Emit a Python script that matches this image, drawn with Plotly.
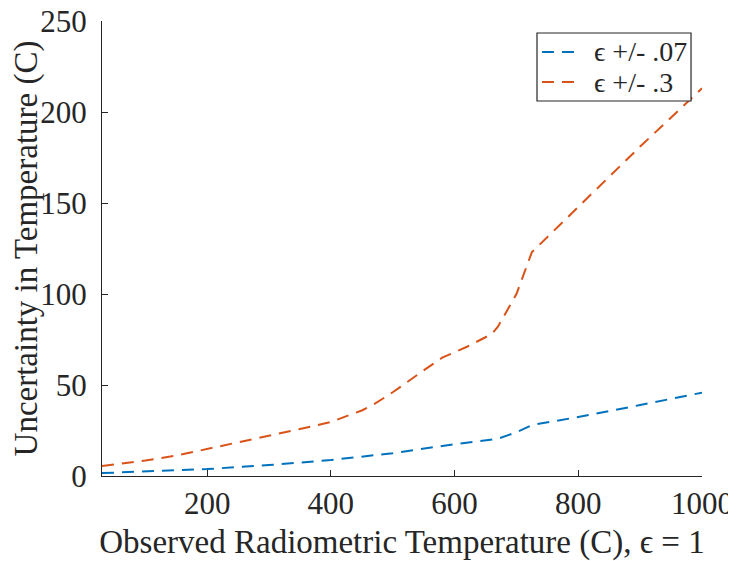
import plotly.graph_objects as go

# Data
x_orange = [30, 100, 150, 200, 250, 300, 350, 400, 450, 470, 500, 550, 580, 620, 660, 670, 700, 725, 800, 900, 1000]
y_orange = [5.5, 8.5, 11.2, 14.8, 18.3, 22, 25.8, 29.7, 36, 39.5, 46, 58, 65, 71, 78, 82, 100, 123, 148, 181, 213]

x_blue = [30, 100, 200, 300, 400, 500, 600, 670, 700, 725, 800, 900, 1000]
y_blue = [1.6, 2.5, 3.8, 6, 8.8, 12.5, 17.5, 20.5, 24, 28, 32.4, 39, 45.8]

series_names = ["ϵ +/- .07", "ϵ +/- .3"]
series_colors = ["#0072BD", "#D95319"]
x_ticks = [200, 400, 600, 800, 1000]
y_ticks = [0, 50, 100, 150, 200, 250]

font_fam = "Liberation Serif, Times New Roman, DejaVu Serif, serif"
axis_col = "#262626"
dash = "12px,8px"

fig = go.Figure()
fig.add_trace(go.Scatter(x=x_blue, y=y_blue, mode="lines", name=series_names[0],
                         line=dict(color=series_colors[0], width=2, dash=dash)))
fig.add_trace(go.Scatter(x=x_orange, y=y_orange, mode="lines", name=series_names[1],
                         line=dict(color=series_colors[1], width=2, dash=dash)))

# Legend drawn as a box with samples (MATLAB-like compact legend)
shapes = [dict(type="rect", xref="paper", yref="paper", x0=0.725, x1=0.9817, y0=0.8242, y1=0.9736,
               line=dict(color=axis_col, width=1.2), fillcolor="white", layer="above")]
annotations = []
row_y = [0.9319, 0.8659]
for name, col, yy in zip(series_names, series_colors, row_y):
    shapes.append(dict(type="line", xref="paper", yref="paper", x0=0.7333, x1=0.80, y0=yy, y1=yy,
                       line=dict(color=col, width=2, dash=dash), layer="above"))
    annotations.append(dict(xref="paper", yref="paper", x=0.8167, y=yy, text=name, showarrow=False,
                            xanchor="left", yanchor="middle",
                            font=dict(size=28, family=font_fam, color=axis_col)))

# page body has an 8px margin, so the figure is drawn at (8, 8)
fig.update_layout(
    width=736, height=553,
    margin=dict(l=94, r=42, t=13, b=85, autoexpand=False),
    paper_bgcolor="white", plot_bgcolor="white",
    font=dict(family=font_fam, color=axis_col),
    showlegend=False,
    shapes=shapes, annotations=annotations,
)
fig.update_xaxes(
    range=[30, 1000], tickvals=x_ticks, ticktext=[str(v) for v in x_ticks],
    automargin=False, ticklabeloverflow="allow",
    showgrid=False, zeroline=False, showline=True, linecolor=axis_col, linewidth=1.3,
    ticks="inside", ticklen=6, tickcolor=axis_col, tickwidth=1.3,
    tickfont=dict(size=31, family=font_fam, color=axis_col),
    title=dict(text="Observed Radiometric Temperature (C), ϵ = 1",
               font=dict(size=33, family=font_fam, color=axis_col), standoff=10),
)
fig.update_yaxes(
    range=[0, 250], tickvals=y_ticks, ticktext=[str(v) for v in y_ticks],
    automargin=False, ticklabeloverflow="allow", ticklabelstandoff=8,
    showgrid=False, zeroline=False, showline=True, linecolor=axis_col, linewidth=1.3,
    ticks="inside", ticklen=6, tickcolor=axis_col, tickwidth=1.3,
    tickfont=dict(size=31, family=font_fam, color=axis_col),
    title=dict(text="Uncertainty in Temperature (C)",
               font=dict(size=33, family=font_fam, color=axis_col), standoff=3),
)

fig.write_html("out.html")
